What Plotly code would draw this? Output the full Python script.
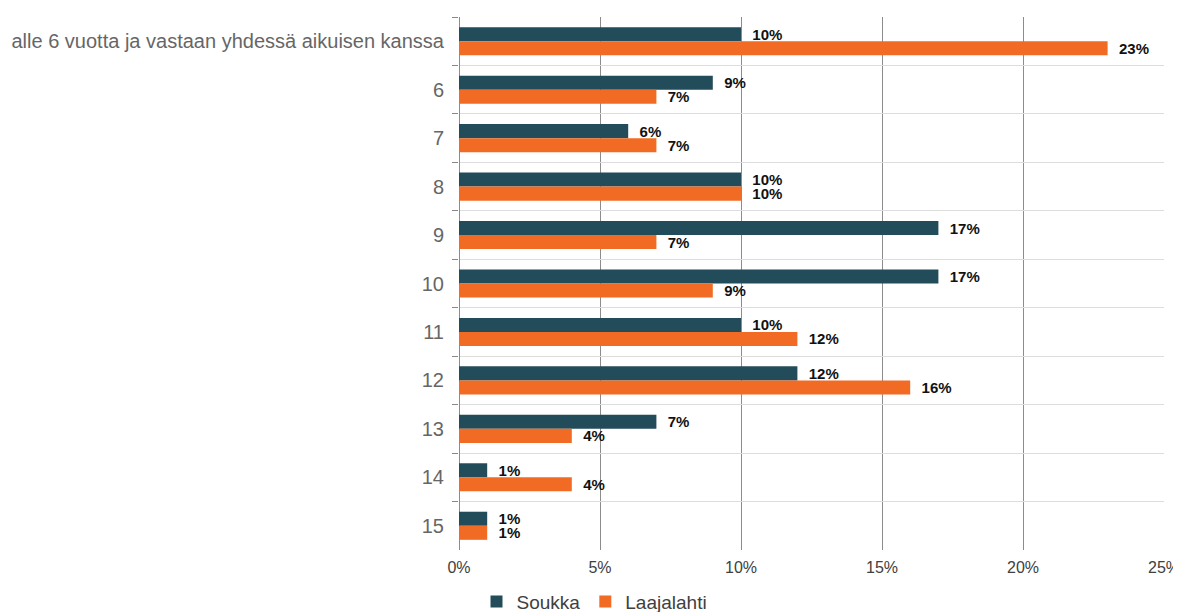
import plotly.graph_objects as go

categories = ["alle 6 vuotta ja vastaan yhdessä aikuisen kanssa", "6", "7", "8", "9",
              "10", "11", "12", "13", "14", "15"]
soukka = [10, 9, 6, 10, 17, 17, 10, 12, 7, 1, 1]
laajalahti = [23, 7, 7, 10, 7, 9, 12, 16, 4, 4, 1]
series_names = ["Soukka", "Laajalahti"]
x_ticks = [0, 5, 10, 15, 20, 25]

colors = ["#234C5A", "#F26B24"]

fig = go.Figure()
for name, vals, col in zip(series_names, [soukka, laajalahti], colors):
    fig.add_trace(go.Bar(
        y=categories, x=vals, name=name, orientation="h",
        marker=dict(color=col, line=dict(width=0)),
        text=[f"\u00a0\u00a0{v}%" for v in vals], textposition="outside",
        constraintext="none",
        textfont=dict(family="Liberation Sans, Arial", size=15, color="#111111", weight="bold"),
        cliponaxis=False,
    ))

# page body has an 8px default margin, so the figure is sized to fit the window
fig.update_layout(
    width=1173, height=604,
    margin=dict(l=451, r=17, t=9, b=62, autoexpand=False),
    barmode="group", bargap=0.42, bargroupgap=0,
    plot_bgcolor="white", paper_bgcolor="white",
    font=dict(family="Liberation Sans, Arial", color="#595959"),
    showlegend=True,
    legend=dict(orientation="h", xref="container", yref="container",
                x=0.5, xanchor="center", y=0.017, yanchor="middle",
                font=dict(size=19, color="#404040"), itemwidth=30,
                traceorder="normal"),
)
fig.update_yaxes(
    autorange="reversed", tickson="boundaries", ticks="outside", ticklen=6,
    tickcolor="#888888", showgrid=True, gridcolor="#DDDDDD", gridwidth=1,
    tickfont=dict(size=20, color="#666666"), ticklabelstandoff=14,
    showline=False, automargin=False,
)
fig.update_xaxes(
    range=[0, 25], tickvals=x_ticks, ticktext=[f"{t}%" for t in x_ticks],
    showgrid=True, gridcolor="#8C8C8C", gridwidth=1,
    zeroline=True, zerolinecolor="#8C8C8C", zerolinewidth=1,
    tickfont=dict(size=16, color="#404040"), ticks="", ticklabelstandoff=6,
    ticklabeloverflow="allow",
    showline=False, automargin=False,
)

fig.write_html("out.html",
               post_script="document.documentElement.style.overflow='hidden';"
                           "document.body.style.overflow='hidden';")
